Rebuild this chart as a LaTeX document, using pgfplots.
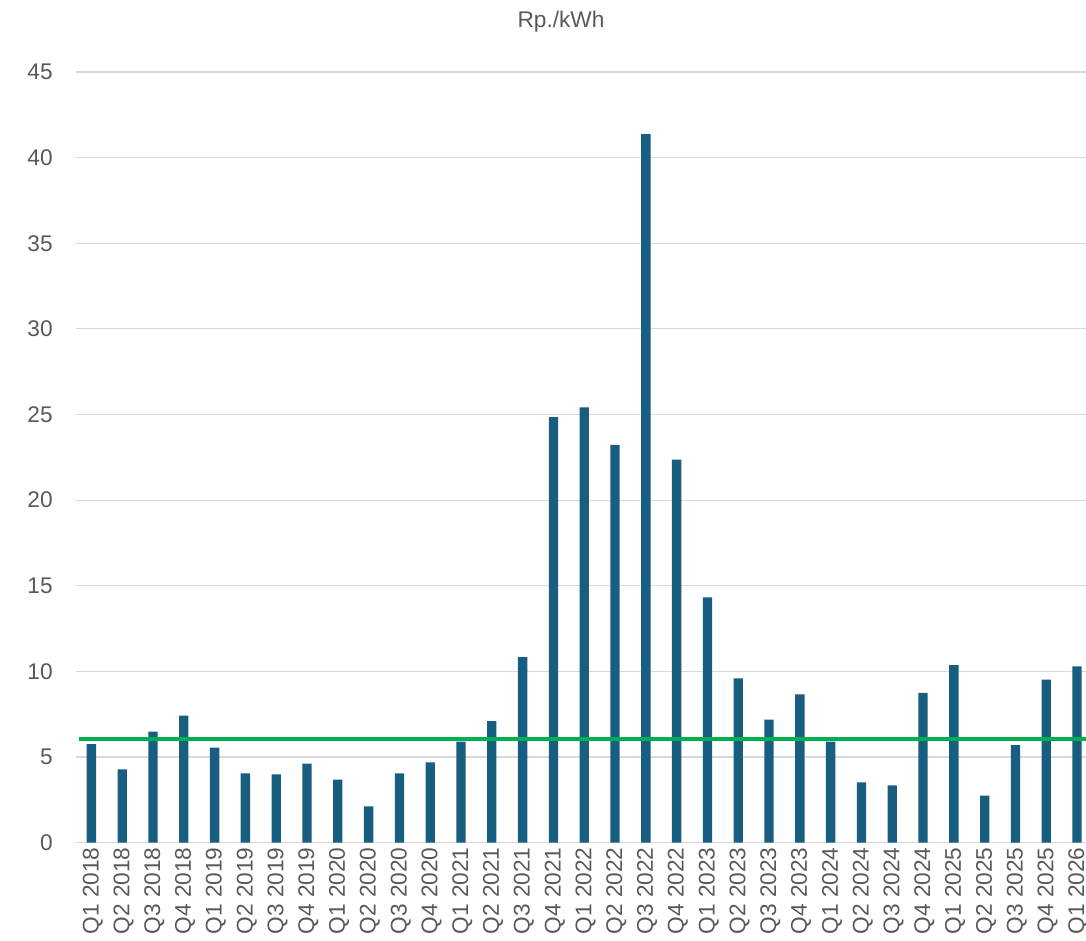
\documentclass[border=0pt]{standalone}
\usepackage{pgfplots}
\pgfplotsset{compat=1.18}
\usepackage{fontspec}
\setmainfont{Liberation Sans}
\definecolor{barblue}{HTML}{175E80}
\definecolor{lgreen}{HTML}{00B050}
\definecolor{txtgray}{HTML}{595959}
\definecolor{gridgray}{HTML}{D9D9D9}
\begin{document}
\begin{tikzpicture}
\useasboundingbox (-57pt,-73.7pt) rectangle (757.5pt,632pt);
\begin{axis}[
  scale only axis,
  width=757.5pt, height=578pt,
  anchor=south west, at={(0pt,0pt)},
  xmin=-0.5, xmax=32.29,
  ymin=0, ymax=45,
  ytick={0,5,...,45},
  xtick={0,...,32},
  xticklabels={Q1 2018,Q2 2018,Q3 2018,Q4 2018,Q1 2019,Q2 2019,Q3 2019,Q4 2019,Q1 2020,Q2 2020,Q3 2020,Q4 2020,Q1 2021,Q2 2021,Q3 2021,Q4 2021,Q1 2022,Q2 2022,Q3 2022,Q4 2022,Q1 2023,Q2 2023,Q3 2023,Q4 2023,Q1 2024,Q2 2024,Q3 2024,Q4 2024,Q1 2025,Q2 2025,Q3 2025,Q4 2025,Q1 2026},
  axis line style={draw=none},
  major tick length=0pt,
  tick style={draw=none},
  ymajorgrids,
  grid style={gridgray, line width=0.9pt},
  /pgf/number format/assume math mode=true,
  ticklabel style={font=\fontsize{17}{20}\selectfont, text=txtgray},
  yticklabel style={anchor=east, xshift=-14pt},
  xticklabel style={rotate=90, anchor=east, yshift=-1pt},
  clip=false,
]
\addplot[ybar, bar width=7pt, fill=barblue, draw=none] coordinates {
(0,5.76) (1,4.28) (2,6.48) (3,7.42) (4,5.55) (5,4.05) (6,3.99) (7,4.61)
(8,3.68) (9,2.12) (10,4.05) (11,4.69) (12,5.90) (13,7.10) (14,10.84) (15,24.85)
(16,25.42) (17,23.22) (18,41.37) (19,22.36) (20,14.32) (21,9.60) (22,7.18) (23,8.66)
(24,5.90) (25,3.52) (26,3.35) (27,8.74) (28,10.37) (29,2.74) (30,5.69) (31,9.52)
(32,10.30)
};
\addplot[sharp plot, lgreen, line width=3pt, mark=none] coordinates {(-0.4,6.04) (32.29,6.04)};
\end{axis}
\node[text=txtgray, font=\fontsize{17}{20}\selectfont] at (363.75pt,615.5pt) {Rp./kWh};
\end{tikzpicture}
\end{document}
